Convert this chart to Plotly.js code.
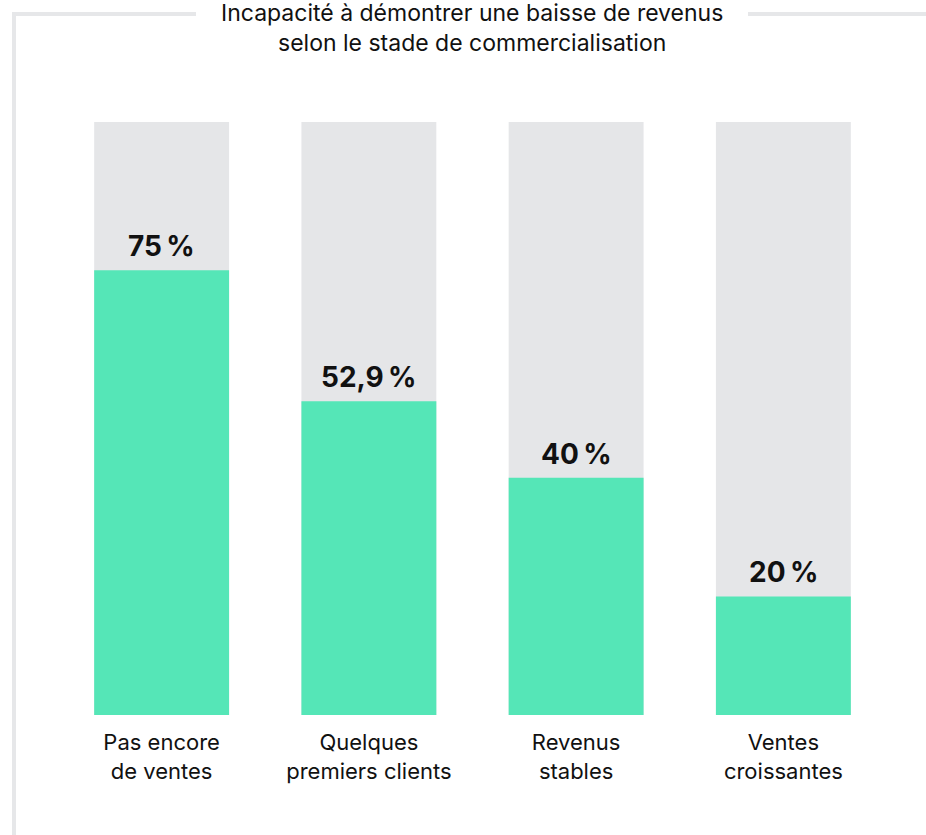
<!DOCTYPE html>
<html>
<head>
<meta charset="utf-8">
<script src="https://cdn.plot.ly/plotly-3.0.1.min.js"></script>
<style>
  html, body { margin: 0; padding: 0; background: #ffffff; }
  #chart { width: 926px; height: 835px; }
</style>
</head>
<body>
<div id="chart"></div>
<script>
const categories = ['Pas encore<br>de ventes', 'Quelques<br>premiers clients', 'Revenus<br>stables', 'Ventes<br>croissantes'];
const values = [75, 52.9, 40, 20];
const totals = [100, 100, 100, 100];
const titleText = 'Incapacité à démontrer une baisse de revenus<br>selon le stade de commercialisation';

const FONT = 'Inter, "Noto Sans", sans-serif';
const labels = values.map(v => String(v).replace('.', ',') + '\u202f%');

const traces = [
  {
    type: 'bar', x: categories, y: totals,
    marker: { color: '#e5e6e8' }, hoverinfo: 'skip', showlegend: false
  },
  {
    type: 'bar', x: categories, y: values,
    marker: { color: '#55e6b7' }, showlegend: false
  }
];

const annotations = values.map((v, i) => ({
  x: categories[i], y: v, xref: 'x', yref: 'y',
  text: '<b>' + labels[i] + '</b>', showarrow: false,
  yanchor: 'bottom', yshift: 5,
  font: { family: FONT, size: 28, color: '#111111' }
}));
annotations.push({
  x: 0.4988, y: 1.2108, xref: 'paper', yref: 'paper',
  xanchor: 'center', yanchor: 'top',
  text: titleText, showarrow: false,
  font: { family: FONT, size: 23, color: '#111111' }
});

const lineStyle = { color: '#e6e7e9', width: 4 };
const shapes = [
  { type: 'line', xref: 'paper', yref: 'paper', x0: -0.0531, x1: -0.0531, y0: -0.21, y1: 1.1821, line: lineStyle, layer: 'below' },
  { type: 'line', xref: 'paper', yref: 'paper', x0: -0.0555, x1: 0.1665, y0: 1.1821, y1: 1.1821, line: lineStyle, layer: 'below' },
  { type: 'line', xref: 'paper', yref: 'paper', x0: 0.8323, x1: 1.05, y0: 1.1821, y1: 1.1821, line: lineStyle, layer: 'below' }
];

const layout = {
  width: 926, height: 835,
  margin: { l: 58, r: 39, t: 122, b: 120 },
  paper_bgcolor: '#ffffff', plot_bgcolor: '#ffffff',
  barmode: 'overlay', bargap: 0.349,
  font: { family: FONT, color: '#111111' },
  xaxis: {
    type: 'category', range: [-0.5, 3.5], fixedrange: true,
    showgrid: false, zeroline: false, showline: false, ticks: '',
    ticklabelstandoff: 12,
    tickfont: { family: FONT, size: 22, color: '#111111' }
  },
  yaxis: {
    range: [0, 100], showgrid: false, zeroline: false, showline: false,
    showticklabels: false, ticks: '', fixedrange: true
  },
  annotations: annotations,
  shapes: shapes
};

Plotly.newPlot('chart', traces, layout, { displayModeBar: false, staticPlot: true });
</script>
</body>
</html>
